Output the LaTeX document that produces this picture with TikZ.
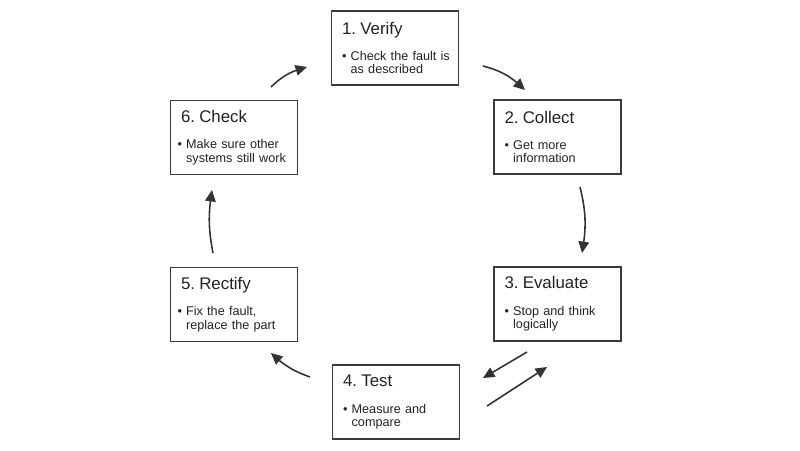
\documentclass[tikz,border=0pt]{standalone}
\usepackage{fontspec}
\setmainfont{Liberation Sans}
\usepackage{tikz}
\usetikzlibrary{positioning,arrows.meta,bending}
\definecolor{boxline}{HTML}{3A3A3A}
\definecolor{arrowgray}{HTML}{333333}
\definecolor{textgray}{HTML}{222222}
\frenchspacing

\begin{document}
\begin{tikzpicture}[
  every node/.style={font=\fontsize{7.2}{7.6}\selectfont,align=left,text=textgray},
  stage/.style={draw=boxline,line width=0.85pt,minimum width=2.54cm,
    minimum height=1.48cm,text width=2.26cm,inner xsep=0.14cm,inner ysep=0pt},
  arr/.style={-{Triangle[length=6.5pt,width=6pt]},line width=0.9pt,draw=arrowgray}
]
  \useasboundingbox (0,0) rectangle (16,9);

  % the six stages
  \node[stage] (verify) at (7.90,8.04)
    {{\fontsize{9.6}{11}\selectfont\hspace{2pt}1. Verify}\\[7.5pt]
     \hspace{2pt}\textbullet\ Check the fault is\\\hspace{2pt}\phantom{\textbullet\ }as described};
  \node[stage] (collect) at (11.15,6.26)
    {{\fontsize{9.6}{11}\selectfont\hspace{2pt}2. Collect}\\[7.5pt]
     \hspace{2pt}\textbullet\ Get more\\\hspace{2pt}\phantom{\textbullet\ }information};
  \node[stage] (evaluate) at (11.15,2.92)
    {{\fontsize{9.6}{11}\selectfont\hspace{2pt}3. Evaluate}\\[7.5pt]
     \hspace{2pt}\textbullet\ Stop and think\\\hspace{2pt}\phantom{\textbullet\ }logically};
  \node[stage] (test) at (7.92,0.96)
    {{\fontsize{9.6}{11}\selectfont\hspace{2pt}4. Test}\\[7.5pt]
     \hspace{2pt}\textbullet\ Measure and\\\hspace{2pt}\phantom{\textbullet\ }compare};
  \node[stage] (rectify) at (4.68,2.91)
    {{\fontsize{9.6}{11}\selectfont\hspace{2pt}5. Rectify}\\[7.5pt]
     \textbullet\ Fix the fault,\\\phantom{\textbullet\ }replace the part};
  \node[stage] (check) at (4.68,6.25)
    {{\fontsize{9.6}{11}\selectfont\hspace{2pt}6. Check}\\[7.5pt]
     \textbullet\ Make sure other\\\phantom{\textbullet\ }systems still work};

  % arrow ends
  \coordinate (vc1) at (9.66,7.68);  \coordinate (vc2) at (10.50,7.20);
  \coordinate (ce1) at (11.60,5.26); \coordinate (ce2) at (11.64,3.94);
  \coordinate (et1) at (10.54,1.96); \coordinate (et2) at (9.66,1.44);
  \coordinate (te1) at (9.74,0.88);  \coordinate (te2) at (10.94,1.66);
  \coordinate (tr1) at (6.20,1.46);  \coordinate (tr2) at (5.42,1.94);
  \coordinate (rc1) at (4.26,3.94);  \coordinate (rc2) at (4.24,5.20);
  \coordinate (cv1) at (5.42,7.26);  \coordinate (cv2) at (6.14,7.66);

  \draw[arr] (vc1) to[bend left=15] (vc2);
  \draw[arr] (ce1) to[bend left=12] (ce2);
  \draw[arr] (et1) -- (et2);
  \draw[arr] (te1) -- (te2);
  \draw[arr] (tr1) to[bend left=12] (tr2);
  \draw[arr] (rc1) to[bend left=10] (rc2);
  \draw[arr] (cv1) to[bend left=15] (cv2);
\end{tikzpicture}
\end{document}
